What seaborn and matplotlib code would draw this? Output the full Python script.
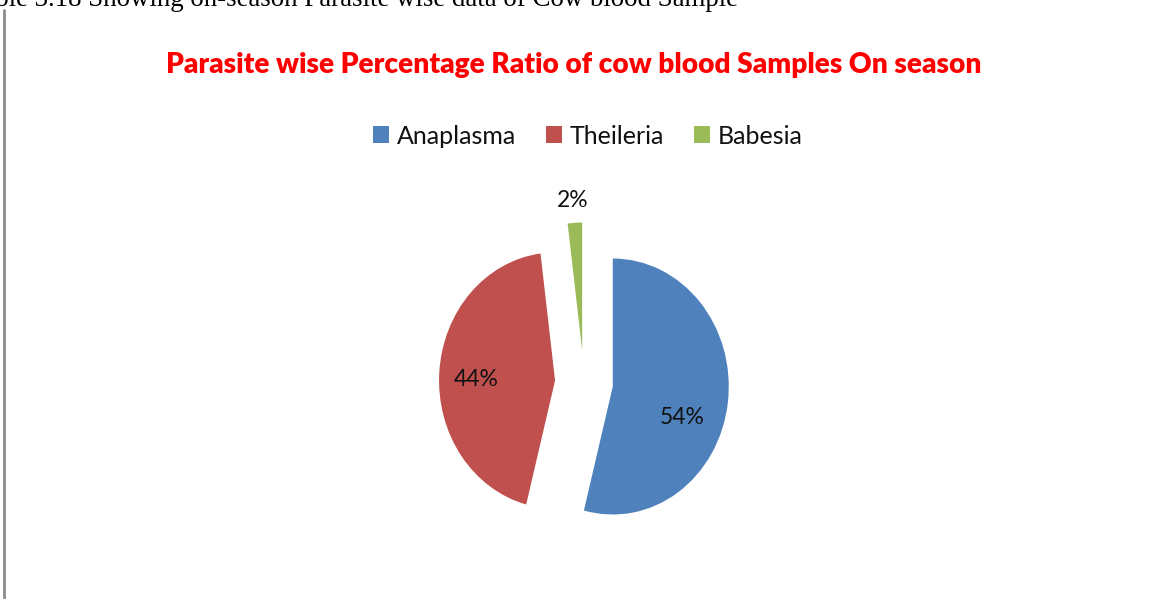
import matplotlib
matplotlib.use("Agg")
import matplotlib.pyplot as plt
from matplotlib.lines import Line2D
import seaborn as sns

# ---- data ----
parasites = ["Anaplasma", "Theileria", "Babesia"]
percentages = [54, 44, 2]
pct_labels = ["54%", "44%", "2%"]
title = "Parasite wise Percentage Ratio of cow blood Samples On season"
caption = "Table 3.18 Showing on-season Parasite wise data of Cow blood Sample"

# ---- style ----
sns.set_theme(style="white")
plt.rcParams["font.family"] = ["Lato", "DejaVu Sans"]
colors = ["#4F81BD", "#C0504D", "#9BBB59"]

W, H = 1155, 599
fig = plt.figure(figsize=(W / 100, H / 100), dpi=100)
fig.patch.set_facecolor("white")

# axes covering whole figure; pie radius 116 px horizontally, 128 px vertically
ax = fig.add_axes([0, 0, 1, 1])
cx, cy = 584, 382.5
rx, ry = 116, 128

wedges, _ = ax.pie(
    percentages,
    colors=colors,
    startangle=90,
    counterclock=False,
    explode=[0.25, 0.25, 0.25],
    radius=1.0,
    center=(0, 0),
    wedgeprops=dict(linewidth=0),
    frame=True,
)
ax.set_xlim(-cx / rx, (W - cx) / rx)
ax.set_ylim(-(H - cy) / ry, cy / ry)
ax.set_aspect("auto")
ax.axis("off")

# percentage labels (positions as in the reference)
label_pos = [(0.845, -0.27), (-0.931, 0.027), (-0.095, 1.418)]
for (lx, ly), txt in zip(label_pos, pct_labels):
    ax.text(lx, ly, txt, ha="center", va="center", fontsize=16.5, color="#111111")

renderer = fig.canvas.get_renderer()

# title, sized to span the same width as the reference
t = fig.text(573.5 / W, 1 - 65.5 / H, title, ha="center", va="center",
             fontsize=20, fontweight="heavy", color="#FF0000", family=["Lato", "DejaVu Sans"])
w0 = t.get_window_extent(renderer).width
t.set_fontsize(20 * 817 / w0)

# legend
leg = fig.legend(wedges, parasites, loc="center", bbox_to_anchor=(588 / W, 1 - 136 / H),
                 ncol=3, frameon=False, fontsize=18, handlelength=0.65, handleheight=0.65,
                 handletextpad=0.3, columnspacing=1.2)
for txt in leg.get_texts():
    txt.set_color("#111111")

# clipped caption at top (starts off the left edge)
cap = fig.text(0, 1 - 6.5 / H, caption, ha="left", va="baseline",
               fontsize=20, color="black", family=["Liberation Serif", "DejaVu Serif"])
pre = fig.text(0, 0, "Ta", fontsize=20, family=["Liberation Serif", "DejaVu Serif"])
full_w = cap.get_window_extent(renderer).width
pre_w = pre.get_window_extent(renderer).width
pre.remove()
# visible part ("ble ...") spans from about x=-4 to x=742
size = 20 * 746 / (full_w - pre_w)
cap.set_fontsize(size)
pre_w2 = pre_w * size / 20
cap.set_x((-4 - pre_w2) / W)

# left vertical rule
fig.add_artist(Line2D([4 / W, 4 / W], [0, 1 - 10 / H], color="#8C8C8C", linewidth=2))

fig.savefig("out.png", dpi=100, facecolor="white")
